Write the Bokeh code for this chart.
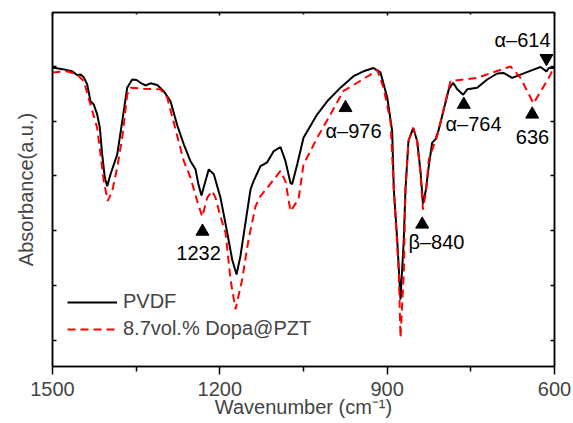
from bokeh.plotting import figure
from bokeh.models import Range1d, FixedTicker, LinearAxis, Legend, LegendItem
from bokeh.core.properties import value
from bokeh.embed import file_html
from bokeh.resources import INLINE

# ---- data ----
pvdf_wn = [1500.0, 1482.1, 1464.7, 1455.7, 1449.8, 1443.9, 1437.8, 1431.9, 1426.0, 1419.9,
           1415.2, 1410.9, 1406.2, 1401.9, 1396.0, 1384.0, 1375.0, 1366.1, 1357.1, 1349.4,
           1342.2, 1333.3, 1324.3, 1312.3, 1301.0, 1288.4, 1276.4, 1264.6, 1252.6, 1243.6,
           1238.3, 1232.9, 1227.5, 1219.8, 1210.8, 1198.8, 1186.8, 1177.8, 1170.1, 1163.0,
           1154.0, 1145.0, 1139.7, 1127.1, 1115.1, 1103.8, 1091.3, 1082.3, 1073.3, 1070.3,
           1061.3, 1050.0, 1025.4, 1007.5, 983.7, 960.4, 942.4, 924.5, 912.0, 899.9,
           891.0, 888.1, 882.0, 876.1, 870.2, 867.2, 861.8, 853.3, 846.2, 840.3,
           835.8, 830.4, 825.4, 819.3, 813.4, 807.5, 798.5, 789.5, 781.6, 774.4,
           763.7, 756.5, 738.6, 720.7, 702.7, 691.4, 675.9, 660.9, 637.7, 625.1,
           614.4, 610.2, 601.8, 600.0]
pvdf_abs = [4.99, 4.96, 4.92, 4.85, 4.86, 4.81, 4.68, 4.37, 4.31, 4.13,
            3.89, 3.39, 2.97, 2.81, 3.03, 3.39, 4.00, 4.62, 4.77, 4.76,
            4.71, 4.66, 4.70, 4.67, 4.56, 4.37, 3.93, 3.58, 3.27, 3.12,
            2.84, 2.64, 2.84, 3.12, 3.03, 2.60, 1.96, 1.46, 1.19, 1.53,
            2.14, 2.75, 2.90, 3.18, 3.25, 3.45, 3.53, 3.27, 2.87, 2.85,
            3.21, 3.70, 4.13, 4.37, 4.62, 4.83, 4.92, 4.98, 4.90, 4.44,
            3.82, 2.75, 1.83, 0.73, 1.83, 2.75, 3.64, 3.88, 3.64, 3.09,
            2.49, 2.75, 3.18, 3.61, 3.67, 3.85, 4.22, 4.59, 4.71, 4.59,
            4.49, 4.59, 4.62, 4.77, 4.88, 4.89, 4.80, 4.86, 4.95, 5.00,
            4.92, 4.98, 4.98, 4.99]

pzt_wn = [1500.0, 1473.6, 1455.7, 1443.9, 1431.9, 1419.9, 1408.0, 1400.9, 1393.0, 1384.0,
          1375.0, 1366.1, 1360.2, 1336.9, 1306.4, 1294.4, 1283.1, 1264.6, 1252.6, 1240.6,
          1231.6, 1222.6, 1213.7, 1207.8, 1198.8, 1189.8, 1180.9, 1171.9, 1159.9, 1148.6,
          1136.1, 1127.1, 1115.1, 1091.3, 1082.3, 1073.3, 1058.9, 1050.0, 1025.4, 1001.6,
          978.3, 953.7, 929.9, 917.9, 906.6, 894.0, 888.1, 879.1, 876.1, 870.2,
          867.2, 861.8, 853.3, 846.2, 840.3, 835.8, 830.4, 825.4, 810.4, 799.0,
          786.5, 738.6, 678.9, 660.9, 637.7, 610.2, 601.8, 600.0]
pzt_abs = [4.90, 4.92, 4.86, 4.74, 4.31, 3.88, 2.90, 2.54, 2.72, 3.15,
           3.70, 4.49, 4.62, 4.60, 4.59, 4.44, 4.00, 3.27, 2.97, 2.54,
           2.25, 2.60, 2.72, 2.60, 2.25, 1.96, 1.10, 0.55, 1.10, 1.83,
           2.44, 2.63, 2.78, 3.09, 2.90, 2.35, 2.57, 3.21, 3.70, 4.13,
           4.56, 4.71, 4.86, 4.95, 4.62, 4.00, 2.75, 1.23, 0.03, 1.23,
           2.75, 3.64, 3.88, 3.64, 3.03, 2.38, 2.71, 3.30, 3.73, 4.22,
           4.74, 4.80, 5.01, 4.80, 4.33, 4.80, 4.98, 4.99]

series_labels = ["PVDF", "8.7vol.% Dopa@PZT"]
x_ticks = [1500, 1200, 900, 600]
x_minor = [1350, 1050, 750]
y_ticks = [-0.03, 0.98, 1.99, 3.0, 4.0, 5.01]

# annotations: up-triangle markers, down-triangle markers, texts
up_wn = [1231.1, 974.7, 837.2, 762.6, 640.0]
up_abs = [1.98, 4.25, 2.11, 4.31, 4.13]
down_wn = [614.4]
down_abs = [5.16]
ann_text = ["1232", "\u03b1\u2013976", "\u03b2\u2013840", "\u03b1\u2013764", "636", "\u03b1\u2013614"]
ann_wn = [1238.2, 960.4, 811.6, 745.2, 639.4, 657.4]
ann_abs = [1.59, 3.83, 1.78, 3.96, 3.72, 5.49]

FONT = "Liberation Sans"
FS = "20px"

p = figure(frame_width=502, frame_height=354, output_backend="svg", toolbar_location=None,
           x_range=Range1d(1500, 600), y_range=Range1d(-0.5, 6.0),
           min_border_left=52, min_border_right=19, min_border_top=12, min_border_bottom=50,
           background_fill_color="white", border_fill_color="white")
p.grid.visible = False
p.outline_line_color = "black"
p.outline_line_width = 1.5

xt = FixedTicker(ticks=x_ticks, minor_ticks=x_minor)
yt = FixedTicker(ticks=y_ticks, minor_ticks=[])

xa = p.xaxis[0]
xa.ticker = xt
xa.axis_label = "Wavenumber (cm\u207b\u00b9)"
xa.axis_label_text_font = FONT
xa.axis_label_text_font_size = FS
xa.axis_label_text_font_style = "normal"
xa.axis_label_standoff = -3
xa.major_label_text_font = FONT
xa.major_label_text_font_size = FS
xa.major_label_standoff = 7
xa.major_tick_in = 0
xa.major_tick_out = 8
xa.minor_tick_in = 0
xa.minor_tick_out = 5
xa.axis_line_width = 1.5
xa.major_tick_line_width = 1.5
xa.minor_tick_line_width = 1.5

ya = p.yaxis[0]
ya.ticker = yt
ya.axis_label = "Absorbance(a.u.)"
ya.axis_label_text_font = FONT
ya.axis_label_text_font_size = FS
ya.axis_label_text_font_style = "normal"
ya.axis_label_standoff = 16
ya.major_label_text_font_size = "0px"
ya.major_label_text_color = None
ya.major_label_standoff = 0
ya.major_tick_in = 4
ya.major_tick_out = 0
ya.minor_tick_in = 0
ya.minor_tick_out = 0
ya.axis_line_width = 1.5
ya.major_tick_line_width = 1.5

top = LinearAxis(ticker=xt, major_label_text_font_size="0px", major_label_text_color=None,
                 major_label_standoff=0,
                 major_tick_in=3, major_tick_out=0, minor_tick_in=2, minor_tick_out=0,
                 axis_line_width=1.5, major_tick_line_width=1.5, minor_tick_line_width=1.5)
right = LinearAxis(ticker=yt, major_label_text_font_size="0px", major_label_text_color=None,
                   major_label_standoff=0,
                   major_tick_in=4, major_tick_out=0, minor_tick_in=0, minor_tick_out=0,
                   axis_line_width=1.5, major_tick_line_width=1.5)
p.add_layout(top, "above")
p.add_layout(right, "right")

r1 = p.line(pvdf_wn, pvdf_abs, line_color="black", line_width=2)
r2 = p.line(pzt_wn, pzt_abs, line_color="#ff0000", line_width=2, line_dash="8 5")

p.scatter(up_wn, up_abs, marker="triangle", size=13, fill_color="black", line_color="black")
p.scatter(down_wn, down_abs, marker="inverted_triangle", size=13, fill_color="black", line_color="black")
p.text(x=ann_wn, y=ann_abs, text=ann_text, text_font=value(FONT), text_font_size=value(FS),
       text_align="center", text_baseline="middle", text_color="black")

legend = Legend(items=[LegendItem(label=series_labels[0], renderers=[r1]),
                       LegendItem(label=series_labels[1], renderers=[r2])],
                location=(15, 26), orientation="vertical",
                label_text_font=FONT, label_text_font_size=FS,
                glyph_width=50, glyph_height=20, label_height=20, spacing=4,
                padding=0, margin=0, label_standoff=6,
                border_line_alpha=0, background_fill_alpha=0)
p.add_layout(legend, "center")

open("out.html", "w").write(file_html(p, INLINE))
